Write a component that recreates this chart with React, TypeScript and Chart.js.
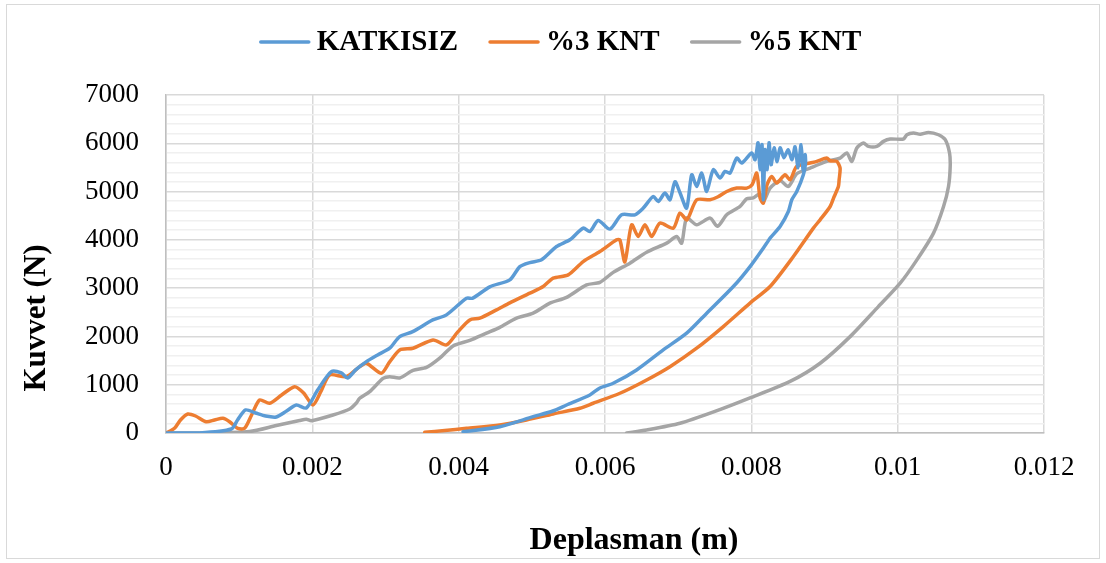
import React, { useEffect, useRef } from 'react';
import { Chart, registerables } from 'chart.js';

Chart.register(...registerables);

// ---- Data (displacement in m, force in N) ----
const katkisizX = [
  0, 0.000458, 0.000892, 0.000978, 0.001088, 0.001224, 0.001361, 0.001508, 0.001648, 0.001781,
  0.001918, 0.002073, 0.00226, 0.002397, 0.002483, 0.002592, 0.002739, 0.002893, 0.003057, 0.003194,
  0.003372, 0.003646, 0.003833, 0.004107, 0.004193, 0.004425, 0.004699, 0.004836, 0.004973, 0.005133,
  0.005338, 0.00552, 0.005702, 0.005794, 0.005907, 0.006067, 0.006227, 0.006409, 0.006523, 0.006659,
  0.006728, 0.00682, 0.006888, 0.006956, 0.007025, 0.007116, 0.007185, 0.007253, 0.007322, 0.00739,
  0.00748, 0.007572, 0.00764, 0.007709, 0.0078, 0.007869, 0.008005, 0.008051, 0.008092, 0.008119,
  0.008146, 0.008164, 0.008187, 0.008215, 0.008242, 0.00827, 0.008311, 0.008352, 0.008393, 0.008447,
  0.008502, 0.008557, 0.008598, 0.008639, 0.00868, 0.008707, 0.008735, 0.008741, 0.008711, 0.008621,
  0.008553, 0.008506, 0.008393, 0.008256, 0.008211, 0.007982, 0.007754, 0.00739, 0.007116, 0.006796,
  0.006432, 0.006112, 0.00593, 0.005793, 0.005475, 0.005287, 0.005018, 0.004562, 0.00406,
];
const katkisizY = [
  0, 0, 83, 270, 477, 415, 352, 332, 456, 580,
  518, 891, 1271, 1244, 1140, 1306, 1478, 1617, 1756, 1996,
  2100, 2342, 2446, 2792, 2792, 3027, 3172, 3447, 3530, 3586,
  3862, 4001, 4243, 4173, 4401, 4223, 4519, 4519, 4658, 4898,
  4795, 4969, 4830, 5203, 4975, 4658, 5348, 5106, 5383, 5002,
  5452, 5280, 5417, 5383, 5694, 5591, 5798, 5659, 6012, 5452,
  5970, 4830, 5867, 5452, 6012, 5556, 5908, 5618, 5908, 5701,
  5867, 5659, 5929, 5494, 5970, 5452, 5763, 5597, 5348, 5002,
  4830, 4588, 4277, 4036, 3933, 3447, 3033, 2481, 2067, 1721,
  1306, 1030, 933, 788, 580, 456, 338, 131, 27,
];

const knt3X = [
  0, 0.000116, 0.000198, 0.000298, 0.000404, 0.00055, 0.000663, 0.000777, 0.000869, 0.000982,
  0.001074, 0.00117, 0.001279, 0.001416, 0.00158, 0.001758, 0.001881, 0.002008, 0.002114, 0.002237,
  0.002465, 0.002647, 0.002739, 0.002944, 0.003057, 0.003194, 0.003376, 0.00365, 0.003833, 0.003988,
  0.004152, 0.004289, 0.004517, 0.004699, 0.004973, 0.005155, 0.005291, 0.005497, 0.005702, 0.00593,
  0.006159, 0.006204, 0.006272, 0.006364, 0.006454, 0.006546, 0.006638, 0.006751, 0.006933, 0.007025,
  0.00712, 0.007253, 0.007435, 0.007545, 0.007663, 0.0078, 0.007937, 0.00801, 0.008074, 0.008119,
  0.008164, 0.008215, 0.008279, 0.008347, 0.008461, 0.008529, 0.008621, 0.008803, 0.008895, 0.009031,
  0.009077, 0.009168, 0.009213, 0.0092, 0.00919, 0.009131, 0.009077, 0.00894, 0.008848, 0.008575,
  0.008256, 0.007982, 0.007617, 0.007253, 0.006888, 0.006569, 0.006204, 0.005839, 0.005657, 0.005291,
  0.004927, 0.004562, 0.004107, 0.00381, 0.003536,
];
const knt3Y = [
  0, 97, 270, 394, 352, 234, 270, 305, 234, 97,
  97, 373, 684, 616, 788, 960, 829, 580, 850, 1202,
  1167, 1374, 1445, 1238, 1472, 1721, 1756, 1928, 1824, 2094,
  2342, 2378, 2550, 2695, 2896, 3033, 3207, 3275, 3551, 3758,
  4001, 4001, 3545, 4312, 4069, 4312, 4069, 4347, 4243, 4554,
  4415, 4830, 4830, 4892, 5002, 5072, 5072, 5141, 5383, 4871,
  4762, 5141, 5313, 5176, 5348, 5245, 5520, 5591, 5624, 5694,
  5638, 5624, 5487, 5245, 5106, 4892, 4691, 4415, 4243, 3655,
  3033, 2689, 2204, 1756, 1374, 1099, 823, 616, 512, 394,
  269, 166, 97, 52, 15,
];

const knt5X = [
  0, 0.000458, 0.001142, 0.001508, 0.001826, 0.001918, 0.001986, 0.002282, 0.00251, 0.002602,
  0.002647, 0.002784, 0.002966, 0.003057, 0.003194, 0.003376, 0.00356, 0.003741, 0.003923, 0.004152,
  0.00438, 0.004562, 0.004791, 0.005018, 0.005246, 0.005475, 0.005748, 0.00593, 0.006112, 0.006341,
  0.006569, 0.006843, 0.00698, 0.007048, 0.007116, 0.007253, 0.007435, 0.007538, 0.007663, 0.007846,
  0.007937, 0.008027, 0.008119, 0.008164, 0.008256, 0.008393, 0.008506, 0.008621, 0.008803, 0.009031,
  0.009213, 0.009305, 0.009373, 0.009442, 0.009532, 0.0096, 0.009716, 0.009806, 0.009898, 0.010079,
  0.010126, 0.010216, 0.010308, 0.010421, 0.010558, 0.01065, 0.010709, 0.010718, 0.010695, 0.010627,
  0.01049, 0.010263, 0.010034, 0.009733, 0.00935, 0.00894, 0.00853, 0.007982, 0.007503, 0.007025,
  0.006569, 0.006296,
];
const knt5Y = [
  0, 0, 31, 155, 259, 284, 255, 373, 498, 622,
  719, 856, 1130, 1167, 1140, 1296, 1358, 1549, 1803, 1918,
  2067, 2187, 2378, 2481, 2689, 2809, 3068, 3120, 3327, 3518,
  3742, 3932, 4069, 3932, 4451, 4312, 4451, 4281, 4519, 4691,
  4851, 4871, 4954, 4789, 5072, 5224, 5106, 5369, 5487, 5624,
  5694, 5798, 5624, 5902, 6005, 5935, 5935, 6039, 6088, 6088,
  6177, 6213, 6188, 6225, 6177, 6074, 5798, 5520, 5106, 4691,
  4140, 3586, 3103, 2612, 1996, 1445, 1068, 726, 446, 201,
  62, 0,
];

const seriesLabels = ['KATKISIZ', '%3 KNT', '%5 KNT'];
const xTitle = 'Deplasman (m)';
const yTitle = 'Kuvvet (N)';
const xMin = 0;
const xMax = 0.012;
const xStep = 0.002;
const yMin = 0;
const yMax = 7000;
const yMajorStep = 1000;
const yMinorStep = 200;

const COLORS = ['#5B9BD5', '#ED7D31', '#A5A5A5'];
const FONT = '"Liberation Serif", "Times New Roman", serif';

function toPoints(xs: number[], ys: number[]) {
  return xs.map((x, i) => ({ x, y: ys[i] }));
}

export default function App() {
  const ref = useRef<HTMLCanvasElement>(null);

  useEffect(() => {
    document.body.style.margin = '0';
    const overlay = {
      id: 'overlay',
      afterDraw(chart: any) {
        const ctx = chart.ctx as CanvasRenderingContext2D;
        ctx.save();
        // outer chart border
        ctx.strokeStyle = '#D9D9D9';
        ctx.lineWidth = 1;
        ctx.strokeRect(6.5, 4.5, 1093, 554);

        // legend
        ctx.font = `bold 29px ${FONT}`;
        const lineLen = 52;
        const gapLT = 6;
        const gapItems = 30;
        const widths = chart.data.datasets.map((d: any) => ctx.measureText(d.label).width);
        let total = 0;
        widths.forEach((w: number, i: number) => {
          total += lineLen + gapLT + w + (i < widths.length - 1 ? gapItems : 0);
        });
        let x = 560 - total / 2;
        const ly = 42;
        chart.data.datasets.forEach((d: any, i: number) => {
          ctx.strokeStyle = d.borderColor;
          ctx.lineWidth = 3.5;
          ctx.lineCap = 'round';
          ctx.beginPath();
          ctx.moveTo(x + 2, ly);
          ctx.lineTo(x + lineLen - 2, ly);
          ctx.stroke();
          ctx.fillStyle = '#000';
          ctx.textAlign = 'left';
          ctx.textBaseline = 'middle';
          ctx.fillText(d.label, x + lineLen + gapLT, ly + 1);
          x += lineLen + gapLT + widths[i] + gapItems;
        });

        // axis titles
        ctx.fillStyle = '#000';
        ctx.font = `bold 32px ${FONT}`;
        ctx.textAlign = 'center';
        ctx.textBaseline = 'middle';
        ctx.fillText(xTitle, 634, 541);

        ctx.save();
        ctx.translate(37, 318);
        ctx.rotate(-Math.PI / 2);
        ctx.font = `bold 31px ${FONT}`;
        ctx.fillText(yTitle, 0, 0);
        ctx.restore();

        ctx.restore();
      },
    };

    const series = [
      toPoints(katkisizX, katkisizY),
      toPoints(knt3X, knt3Y),
      toPoints(knt5X, knt5Y),
    ];

    const chart = new Chart(ref.current as HTMLCanvasElement, {
      type: 'scatter',
      data: {
        datasets: series.map((data, i) => ({
          label: seriesLabels[i],
          data,
          showLine: true,
          borderColor: COLORS[i],
          backgroundColor: COLORS[i],
          borderWidth: 3.5,
          pointRadius: 0,
          pointHoverRadius: 0,
          tension: 0.25,
          fill: false,
          borderCapStyle: 'round',
          borderJoinStyle: 'round',
        })),
      },
      options: {
        responsive: false,
        animation: false,
        layout: { padding: { top: 95, right: 62, bottom: 0, left: 0 } },
        plugins: {
          legend: { display: false },
          tooltip: { enabled: false },
          title: { display: false },
        },
        scales: {
          x: {
            type: 'linear',
            min: xMin,
            max: xMax,
            afterFit: (s: any) => {
              s.height = 130;
            },
            ticks: {
              stepSize: xStep,
              padding: 19,
              color: '#000',
              font: { family: FONT, size: 27 },
              maxRotation: 0,
              callback: (v: any) => String(Number(Number(v).toFixed(3))),
            },
            grid: { color: '#D9D9D9', lineWidth: 1.5, drawTicks: false },
            border: { color: '#BFBFBF', width: 1.5 },
          },
          y: {
            min: yMin,
            max: yMax,
            afterFit: (s: any) => {
              s.width = 166;
            },
            ticks: {
              stepSize: yMinorStep,
              autoSkip: false,
              padding: 27,
              color: '#000',
              font: { family: FONT, size: 27 },
              callback: (v: any) => (Number(v) % yMajorStep === 0 ? String(v) : ''),
            },
            grid: {
              color: (c: any) => (c.tick && c.tick.value % yMajorStep === 0 ? '#D9D9D9' : '#F0F0F0'),
              lineWidth: 1.5,
              drawTicks: false,
            },
            border: { color: '#BFBFBF', width: 1.5 },
          },
        },
      } as any,
      plugins: [overlay],
    });

    return () => chart.destroy();
  }, []);

  return <canvas ref={ref} width={1106} height={563} style={{ display: 'block' }} />;
}
